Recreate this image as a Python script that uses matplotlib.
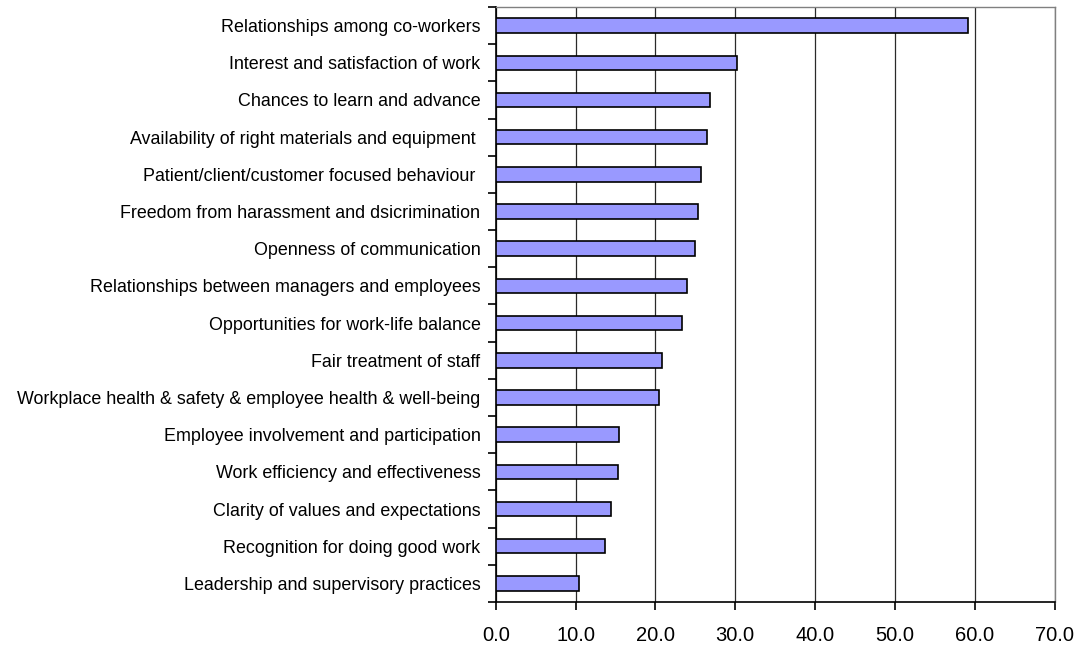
import matplotlib as mpl
import matplotlib.pyplot as plt
import numpy as np
from matplotlib.ticker import FixedLocator

mpl.rcParams.update({
    "font.family": "sans-serif",
    "font.sans-serif": ["Liberation Sans", "Arial", "DejaVu Sans"],
})

FILL = "#9999FF"
FRAME_GREY = "#808080"

# top to bottom as shown in the chart
categories = [
    "Relationships among co-workers",
    "Interest and satisfaction of work",
    "Chances to learn and advance",
    "Availability of right materials and equipment ",
    "Patient/client/customer focused behaviour ",
    "Freedom from harassment and dsicrimination",
    "Openness of communication",
    "Relationships between managers and employees",
    "Opportunities for work-life balance",
    "Fair treatment of staff",
    "Workplace health & safety & employee health & well-being",
    "Employee involvement and participation",
    "Work efficiency and effectiveness",
    "Clarity of values and expectations",
    "Recognition for doing good work",
    "Leadership and supervisory practices",
]
values = [59.2, 30.2, 26.9, 26.5, 25.7, 25.3, 25.0, 24.0,
          23.3, 20.8, 20.5, 15.4, 15.3, 14.4, 13.7, 10.4]
xticks = [0, 10, 20, 30, 40, 50, 60, 70]

fig = plt.figure(figsize=(10.79, 6.46), dpi=100)
ax = fig.add_axes([0.4594, 0.0681, 0.5179, 0.9211])

n = len(categories)
y = np.arange(n)[::-1]
ax.barh(y, values, height=0.39, color=FILL, edgecolor="black",
        linewidth=1.2, zorder=3)

ax.set_xlim(0, 70)
ax.set_ylim(-0.5, n - 0.5)
ax.set_xticks(xticks)
ax.set_xticklabels([f"{v:.1f}" for v in xticks], fontsize=14.5)
ax.set_yticks(y)
ax.set_yticklabels(categories, fontsize=12.9)
ax.yaxis.set_minor_locator(FixedLocator(np.arange(-0.5, n, 1.0)))
ax.tick_params(axis="y", which="major", length=0, pad=11)
ax.tick_params(axis="y", which="minor", length=6, width=1.2, direction="out")
ax.tick_params(axis="x", length=6, width=1.2, direction="out", pad=11)

ax.grid(True, axis="x", color="#2a2a2a", linewidth=0.9, zorder=0)
for side in ("top", "right"):
    ax.spines[side].set_color(FRAME_GREY)
    ax.spines[side].set_linewidth(1.0)
for side in ("left", "bottom"):
    ax.spines[side].set_color("black")
    ax.spines[side].set_linewidth(1.2)

fig.savefig("out.png", dpi=100)
